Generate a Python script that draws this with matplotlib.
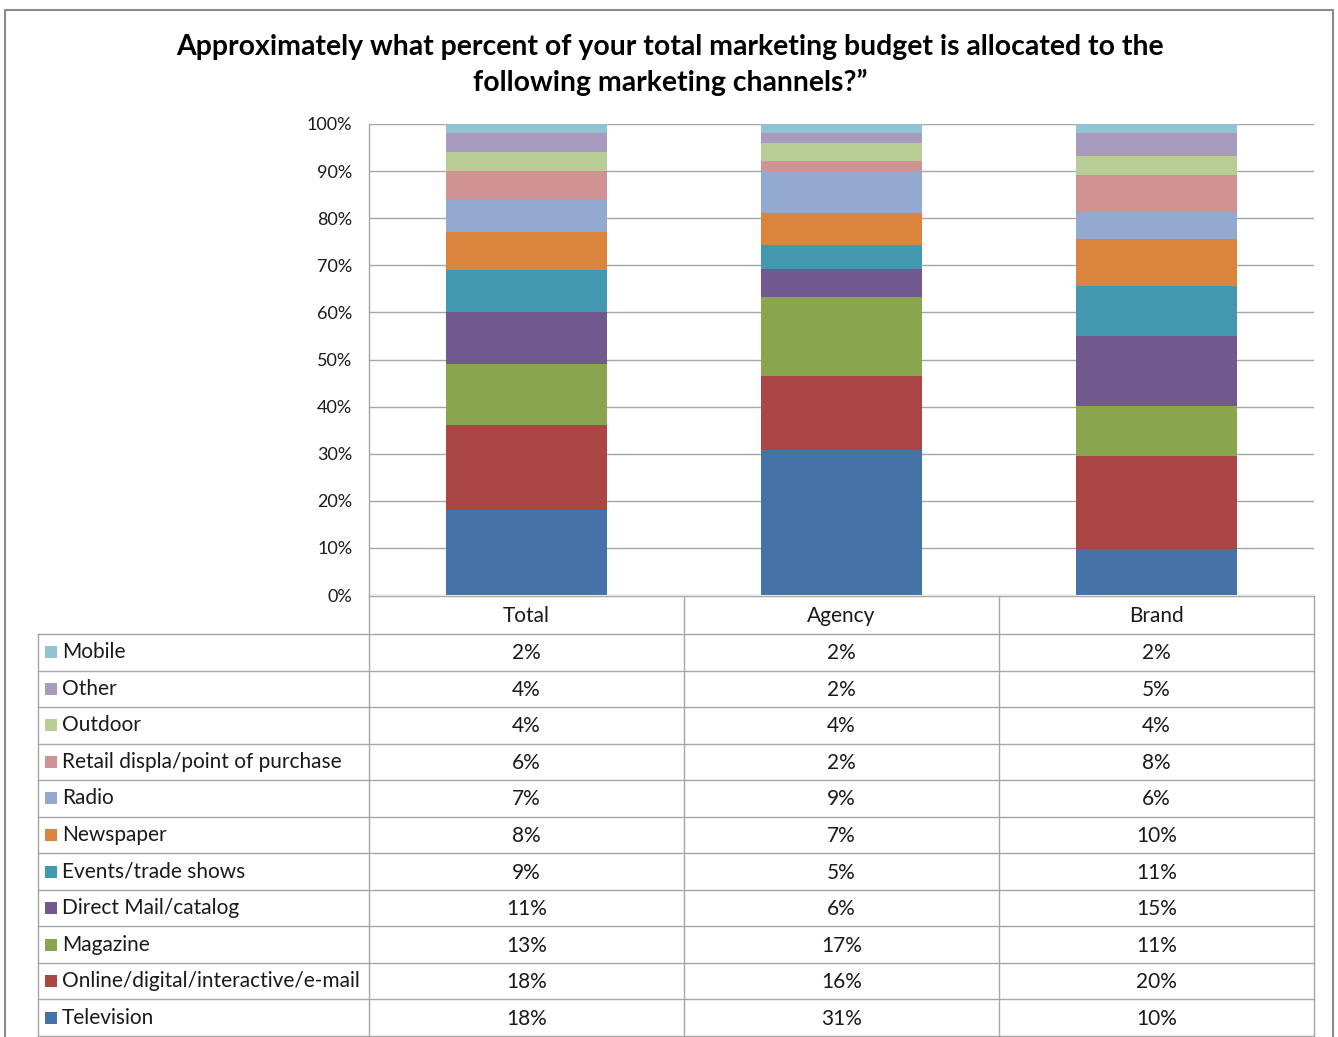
import matplotlib
matplotlib.use("Agg")
import matplotlib.pyplot as plt
import numpy as np

# ---- data ----
groups = ["Total", "Agency", "Brand"]
channels = [
    "Television",
    "Online/digital/interactive/e-mail",
    "Magazine",
    "Direct Mail/catalog",
    "Events/trade shows",
    "Newspaper",
    "Radio",
    "Retail displa/point of purchase",
    "Outdoor",
    "Other",
    "Mobile",
]
total = [18, 18, 13, 11, 9, 8, 7, 6, 4, 4, 2]
agency = [31, 16, 17, 6, 5, 7, 9, 2, 4, 2, 2]
brand = [10, 20, 11, 15, 11, 10, 6, 8, 4, 5, 2]
colors = ["#4572A7", "#AA4643", "#89A54E", "#71588F", "#4198AF", "#DB843D",
          "#93A9CF", "#D19392", "#B9CD96", "#A99BBD", "#92C3D4"]
yticks = [0, 10, 20, 30, 40, 50, 60, 70, 80, 90, 100]
title = ("Approximately what percent of your total marketing budget is allocated to the\n"
         "following marketing channels?\u201d")

plt.rcParams["font.family"] = ["Lato", "DejaVu Sans"]

W, H = 1338, 1037
fig = plt.figure(figsize=(W / 100, H / 100), dpi=100)
fig.patch.set_facecolor("white")

def fx(x):
    return x / W

def fy(y):
    return 1 - y / H

# layout in pixels
plot_l, plot_r, plot_t, plot_b = 369, 1314, 124, 595
tab_l = 38
head_t, head_b = 596, 634
row_h = (1036 - head_b) / len(channels)
grid_c = "#a6a6a6"
text_c = "#1a1a1a"
fs_tab = 15

# ---- stacked 100% columns ----
ax = fig.add_axes([fx(plot_l), fy(plot_b), fx(plot_r - plot_l), (plot_b - plot_t) / H])
data = np.array([total, agency, brand], dtype=float)  # groups x channels
shares = data / data.sum(axis=1, keepdims=True) * 100
x = np.arange(len(groups))
bottom = np.zeros(len(groups))
for j, ch in enumerate(channels):
    ax.bar(x, shares[:, j], bottom=bottom, width=0.51, color=colors[j],
           edgecolor="none", zorder=3, label=ch)
    bottom += shares[:, j]
ax.set_xlim(-0.5, len(groups) - 0.5)
ax.set_ylim(0, 100)
ax.set_yticks(yticks)
ax.set_yticklabels([f"{t}%" for t in yticks], fontsize=13, color=text_c)
ax.tick_params(axis="y", length=0, pad=12)
ax.set_xticks([])
ax.yaxis.grid(True, color=grid_c, linewidth=1, zorder=0)
for s in ["top", "right", "bottom"]:
    ax.spines[s].set_visible(False)
ax.spines["left"].set_color(grid_c)
ax.spines["left"].set_linewidth(1)

# ---- title ----
fig.text(fx(670), fy(65), title, ha="center", va="center", fontsize=20.4,
         fontweight="bold", color="black", linespacing=1.42)

# ---- data table ----
tab = fig.add_axes([0, 0, 1, 1], zorder=5)
tab.set_xlim(0, W)
tab.set_ylim(H, 0)
tab.axis("off")
tab.patch.set_alpha(0)

col_edges = np.linspace(plot_l, plot_r, len(groups) + 1)
row_edges = head_b + row_h * np.arange(len(channels) + 1)
lw = 1.0
# horizontal lines
tab.plot([plot_l, plot_r], [head_t, head_t], color=grid_c, lw=lw)
for yy in row_edges:
    tab.plot([tab_l, plot_r], [yy, yy], color=grid_c, lw=lw)
# vertical lines
for xx in col_edges:
    tab.plot([xx, xx], [head_t, row_edges[-1]], color=grid_c, lw=lw)
tab.plot([tab_l, tab_l], [head_b, row_edges[-1]], color=grid_c, lw=lw)

# header
for i, g in enumerate(groups):
    tab.text((col_edges[i] + col_edges[i + 1]) / 2, (head_t + head_b) / 2 + 1, g,
             ha="center", va="center", fontsize=fs_tab, color=text_c)

# rows: top row is the top of the stack
vals = {"Total": total, "Agency": agency, "Brand": brand}
for r, j in enumerate(range(len(channels) - 1, -1, -1)):
    yc = (row_edges[r] + row_edges[r + 1]) / 2
    tab.add_patch(plt.Rectangle((45, yc - 6), 12, 12, color=colors[j], lw=0))
    tab.text(62, yc, channels[j], ha="left", va="center", fontsize=fs_tab, color=text_c)
    for i, g in enumerate(groups):
        tab.text((col_edges[i] + col_edges[i + 1]) / 2, yc + 1, f"{vals[g][j]}%",
                 ha="center", va="center", fontsize=fs_tab, color=text_c)

# chart frame
tab.plot([5, 5, 1333, 1333], [H + 5, 10, 10, H + 5], color="#8a8a8a", lw=1.5)

fig.savefig("out.png", dpi=100, facecolor="white")
